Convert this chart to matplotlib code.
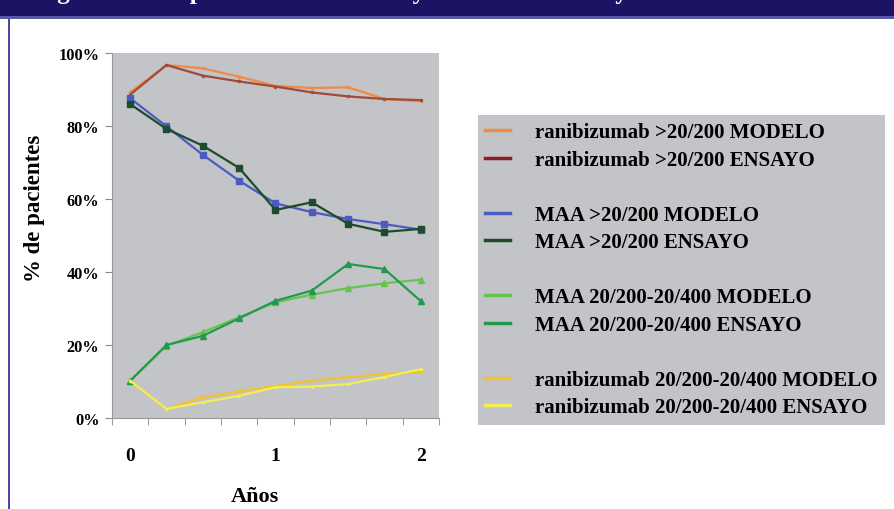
import numpy as np
import matplotlib
matplotlib.use('Agg')
from matplotlib import pyplot as plt
from matplotlib.lines import Line2D
from matplotlib.patches import Rectangle

plt.rcParams['font.family'] = ['Liberation Serif', 'DejaVu Serif']
plt.rcParams['font.weight'] = 'bold'

# datos (% de pacientes por trimestre, 0..2 años)
anos = ['0', '', '', '', '1', '', '', '', '2']
rani_gt_modelo = [89.2, 96.7, 95.8, 93.5, 91.0, 90.4, 90.6, 87.4, 86.8]
rani_gt_ensayo = [88.6, 96.7, 93.8, 92.2, 90.8, 89.2, 88.1, 87.4, 87.1]
maa_gt_modelo = [87.6, 79.9, 72.1, 65.0, 58.8, 56.4, 54.5, 53.1, 51.6]
maa_gt_ensayo = [86.0, 79.2, 74.6, 68.5, 57.0, 59.1, 53.2, 51.0, 51.8]
maa_mid_modelo = [10.2, 19.8, 23.5, 27.6, 31.7, 33.8, 35.6, 36.9, 37.9]
maa_mid_ensayo = [10.2, 20.0, 22.5, 27.3, 32.1, 34.9, 42.2, 40.8, 32.0]
rani_mid_modelo = [10.2, 2.5, 5.7, 7.3, 8.8, 10.2, 11.2, 12.1, 12.5]
rani_mid_ensayo = [10.2, 2.5, 4.3, 6.1, 8.4, 8.6, 9.3, 11.2, 13.4]

etiquetas = ['ranibizumab >20/200 MODELO', 'ranibizumab >20/200 ENSAYO',
             'MAA >20/200 MODELO', 'MAA >20/200 ENSAYO',
             'MAA 20/200-20/400 MODELO', 'MAA 20/200-20/400 ENSAYO',
             'ranibizumab 20/200-20/400 MODELO', 'ranibizumab 20/200-20/400 ENSAYO']
series = [rani_gt_modelo, rani_gt_ensayo, maa_gt_modelo, maa_gt_ensayo,
          maa_mid_modelo, maa_mid_ensayo, rani_mid_modelo, rani_mid_ensayo]
colores = ['#f08a45', '#a04a3c', '#4a5cc2', '#1e4a2e',
           '#66c44c', '#229a4e', '#f2c230', '#f2ee55']
leg_colores = ['#f08a45', '#8e1c22', '#4a5cc2', '#1e4a2e',
               '#66c44c', '#229a4e', '#f2c230', '#f2ee55']
marcas = ['.', '.', 's', 's', '^', '^', '.', '.']

gris = '#c2c4c7'
W, H = 895, 510

fig = plt.figure(figsize=(W / 100, H / 100), dpi=100)

# banda superior y borde izquierdo
fig.patches.append(Rectangle((0, 1 - 17 / H), 1, 17 / H, transform=fig.transFigure,
                             facecolor='#1b1464', edgecolor='none', zorder=0))
fig.patches.append(Rectangle((0, 1 - 20 / H), 1, 3 / H, transform=fig.transFigure,
                             facecolor='#5b58a5', edgecolor='none', zorder=0))
fig.patches.append(Rectangle((8 / W, 0), 2 / W, 1 - 20 / H, transform=fig.transFigure,
                             facecolor='#4a47a0', edgecolor='none', zorder=0))
fig.text(35 / W, 1 + 1 / H, 'Figura 2. Comparación del modelo y los datos del ensayo MARINA',
         color='white', fontsize=18, fontweight='bold', va='baseline', ha='left')

ax = fig.add_axes([112 / W, 1 - 419 / H, (439 - 112) / W, (419 - 54) / H])
ax.set_facecolor(gris)
x = np.arange(len(anos))
for s, c, m in zip(series, colores, marcas):
    ax.plot(x, s, color=c, lw=1.6, marker=m, ms=4 if m != '.' else 3,
            markeredgecolor=c, markerfacecolor=c)

ax.set_xlim(-0.5, len(anos) - 0.5)
ax.set_ylim(0, 100)
ax.set_yticks(np.arange(0, 101, 20))
ax.set_yticklabels([f'{v}%' for v in range(0, 101, 20)], fontsize=11.8, fontweight='bold')
ax.set_xticks(x)
ax.set_xticklabels(anos, fontsize=14, fontweight='bold')
ax.tick_params(axis='x', length=0, pad=21)
ax.set_xticks(np.arange(-0.5, len(anos), 1), minor=True)
ax.tick_params(axis='x', which='minor', length=5, color='#888888')
ax.tick_params(axis='y', length=5, color='#888888', pad=4)
for sp in ['top', 'right']:
    ax.spines[sp].set_visible(False)
ax.spines['left'].set_color('#999999')
ax.spines['bottom'].set_color('#999999')

fig.text(35 / W, 1 - 208 / H, '% de pacientes', rotation=90, ha='center', va='center',
         fontsize=16.5, fontweight='bold')
fig.text(255 / W, 1 - 497 / H, 'Años', ha='center', va='center',
         fontsize=16, fontweight='bold')

# leyenda con filas en blanco entre pares
handles, labels = [], []
for i, (lab, c) in enumerate(zip(etiquetas, leg_colores)):
    handles.append(Line2D([], [], color=c, lw=2.5))
    labels.append(lab)
    if i % 2 == 1 and i < len(etiquetas) - 1:
        handles.append(Line2D([], [], color='none'))
        labels.append(' ')
leg = fig.legend(handles, labels, loc='upper left', bbox_to_anchor=(478 / W, 1 - 116 / H),
                 borderaxespad=0, frameon=True, fancybox=False, facecolor=gris,
                 edgecolor='none', framealpha=1, fontsize=15, handlelength=1.2,
                 handletextpad=1.2, labelspacing=0.36, borderpad=0.35)
for t in leg.get_texts():
    t.set_fontweight('bold')

fig.savefig('out.png', dpi=100)
